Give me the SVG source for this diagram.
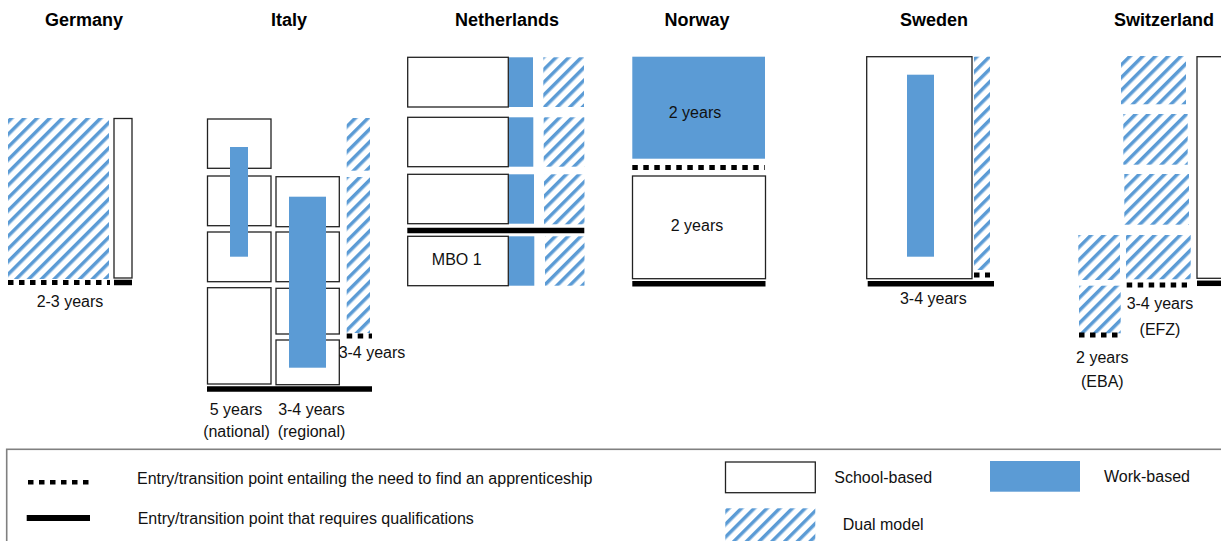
<svg xmlns="http://www.w3.org/2000/svg" width="1221" height="541" viewBox="0 0 1221 541">
  <defs>
    <!-- diagonal blue stripes used for the dual model -->
    <pattern id="dual" patternUnits="userSpaceOnUse" width="9" height="9" patternTransform="rotate(45)">
      <rect x="0" y="0" width="9" height="9" fill="#ffffff"/>
      <rect x="0" y="0" width="3.5" height="9" fill="#5b9bd5"/>
    </pattern>
    <style>
      .title { font-family: "Liberation Sans", Arial, sans-serif; font-weight: bold; font-size: 18px; fill: #000; text-anchor: middle; }
      .lbl { font-family: "Liberation Sans", Arial, sans-serif; font-size: 16px; fill: #111; text-anchor: middle; }
      .leg { font-family: "Liberation Sans", Arial, sans-serif; font-size: 16px; fill: #111; }
      .school { fill: #ffffff; stroke: #222; stroke-width: 1.3; }
      .work { fill: #5b9bd5; }
      .dual { fill: url(#dual); }
      .apprent { stroke: #000; stroke-width: 5; stroke-dasharray: 5.5 5.5; fill: none; }
      .qualif { stroke: #000; stroke-width: 5.5; fill: none; }
    </style>
  </defs>
  <rect width="1221" height="541" fill="#ffffff"/>

  <!-- country headings -->
  <g id="titles">
    <text class="title" x="84" y="26">Germany</text>
    <text class="title" x="289" y="26">Italy</text>
    <text class="title" x="507" y="26">Netherlands</text>
    <text class="title" x="697" y="26">Norway</text>
    <text class="title" x="934" y="26">Sweden</text>
    <text class="title" x="1164" y="26">Switzerland</text>
  </g>

  <!-- Germany -->
  <g id="germany">
    <rect class="dual" x="8" y="118" width="101" height="161"/>
    <rect class="school" x="114" y="118.5" width="18" height="159.5"/>
    <text class="lbl" x="70" y="307">2-3 years</text>
  </g>

  <!-- Italy -->
  <g id="italy">
    <rect class="school" x="207.5" y="119" width="63.5" height="49.3"/>
    <rect class="school" x="207.5" y="176" width="63.5" height="49.7"/>
    <rect class="school" x="207.5" y="232" width="63.5" height="49.7"/>
    <rect class="school" x="207.5" y="287.7" width="63.5" height="96.3"/>
    <rect class="school" x="276" y="176.7" width="63.3" height="50"/>
    <rect class="school" x="276" y="232" width="63.3" height="49.7"/>
    <rect class="school" x="276" y="288.3" width="63.3" height="45.7"/>
    <rect class="school" x="276" y="340" width="63.3" height="44.7"/>
    <rect class="work" x="230" y="147" width="18" height="109.7"/>
    <rect class="work" x="289" y="196.7" width="37" height="171"/>
    <rect class="dual" x="346.7" y="118" width="23.3" height="52.7"/>
    <rect class="dual" x="346.7" y="177" width="23.3" height="156"/>
    <text class="lbl" x="372" y="358">3-4 years</text>
    <text class="lbl" x="236" y="415">5 years</text>
    <text class="lbl" x="236.5" y="437">(national)</text>
    <text class="lbl" x="311.5" y="415">3-4 years</text>
    <text class="lbl" x="311.5" y="437">(regional)</text>
  </g>

  <!-- Netherlands -->
  <g id="netherlands">
    <rect class="school" x="407.7" y="57.3" width="100.6" height="49.7"/>
    <rect class="school" x="407.7" y="117.3" width="100.6" height="49.4"/>
    <rect class="school" x="407.7" y="174.3" width="100.6" height="49.4"/>
    <rect class="school" x="407.7" y="236.3" width="100.6" height="49.4"/>
    <rect class="work" x="509" y="57.3" width="24" height="49.7"/>
    <rect class="work" x="509" y="117.3" width="24.3" height="49.4"/>
    <rect class="work" x="509" y="174.3" width="25" height="49.4"/>
    <rect class="work" x="509" y="236.3" width="25.3" height="49.4"/>
    <rect class="dual" x="543.3" y="57.3" width="40.7" height="49.7"/>
    <rect class="dual" x="543.7" y="117.3" width="40.6" height="49.4"/>
    <rect class="dual" x="544" y="174.3" width="40.5" height="50"/>
    <rect class="dual" x="545" y="236.3" width="39.5" height="49.4"/>
    <text class="lbl" x="456.7" y="265">MBO 1</text>
  </g>

  <!-- Norway -->
  <g id="norway">
    <rect class="work" x="632.3" y="56.7" width="132.7" height="102"/>
    <rect class="school" x="632.5" y="176" width="133" height="102.7"/>
    <text class="lbl" x="695" y="117.5">2 years</text>
    <text class="lbl" x="697" y="230.5">2 years</text>
  </g>

  <!-- Sweden -->
  <g id="sweden">
    <rect class="school" x="866.7" y="56.7" width="105.3" height="222"/>
    <rect class="work" x="907" y="74.7" width="27" height="182"/>
    <rect class="dual" x="974" y="56.7" width="16" height="213.3"/>
    <text class="lbl" x="933.3" y="304">3-4 years</text>
  </g>

  <!-- Switzerland -->
  <g id="switzerland">
    <rect class="dual" x="1121" y="56" width="65" height="48.3"/>
    <rect class="dual" x="1123.3" y="114" width="64.4" height="50.7"/>
    <rect class="dual" x="1124.3" y="174" width="64.7" height="50.7"/>
    <rect class="dual" x="1126" y="235" width="64.7" height="44.3"/>
    <rect class="dual" x="1078.3" y="235" width="41.7" height="45"/>
    <rect class="dual" x="1079" y="285.7" width="41.7" height="47.6"/>
    <rect class="school" x="1197" y="56.7" width="40" height="221.6"/>
    <text class="lbl" x="1160" y="309">3-4 years</text>
    <text class="lbl" x="1160" y="335">(EFZ)</text>
    <text class="lbl" x="1102.3" y="363">2 years</text>
    <text class="lbl" x="1102.3" y="386.5">(EBA)</text>
  </g>

  <!-- entry and transition points -->
  <g id="transitions">
    <line class="apprent" x1="8" y1="282.5" x2="110" y2="282.5"/>
    <line class="qualif" x1="114" y1="282.5" x2="132" y2="282.5"/>
    <line class="qualif" x1="207" y1="389" x2="372" y2="389"/>
    <line class="apprent" x1="346.7" y1="336" x2="372" y2="336"/>
    <line class="qualif" x1="407.3" y1="230.5" x2="584.3" y2="230.5"/>
    <line class="apprent" x1="632.3" y1="167.5" x2="765" y2="167.5"/>
    <line class="qualif" x1="632.3" y1="283.7" x2="765.5" y2="283.7"/>
    <line class="apprent" x1="974" y1="275" x2="990" y2="275"/>
    <line class="qualif" x1="867.7" y1="283.7" x2="994" y2="283.7"/>
    <line class="apprent" x1="1079" y1="335" x2="1119.5" y2="335"/>
    <line class="apprent" x1="1126.7" y1="285" x2="1187" y2="285"/>
    <line class="qualif" x1="1197" y1="283.3" x2="1221" y2="283.3"/>
  </g>

  <!-- key -->
  <g id="legend">
    <rect x="6.7" y="449.3" width="1230" height="120" fill="none" stroke="#808080" stroke-width="1.6"/>
    <line class="apprent" x1="28" y1="482.3" x2="90" y2="482.3" style="stroke-width:4.5"/>
    <line class="qualif" x1="26.7" y1="518" x2="90" y2="518" style="stroke-width:6"/>
    <text class="leg" x="137" y="484">Entry/transition point entailing the need to find an apprenticeship</text>
    <text class="leg" x="137.7" y="524.3">Entry/transition point that requires qualifications</text>
    <rect class="school" x="725.5" y="462" width="89.8" height="30.7"/>
    <text class="leg" x="834.3" y="482.7">School-based</text>
    <rect class="work" x="990" y="461" width="90" height="30.7"/>
    <text class="leg" x="1104" y="482.3">Work-based</text>
    <rect class="dual" x="725.3" y="508.3" width="90" height="40"/>
    <text class="leg" x="842.7" y="530.3">Dual model</text>
  </g>
</svg>
